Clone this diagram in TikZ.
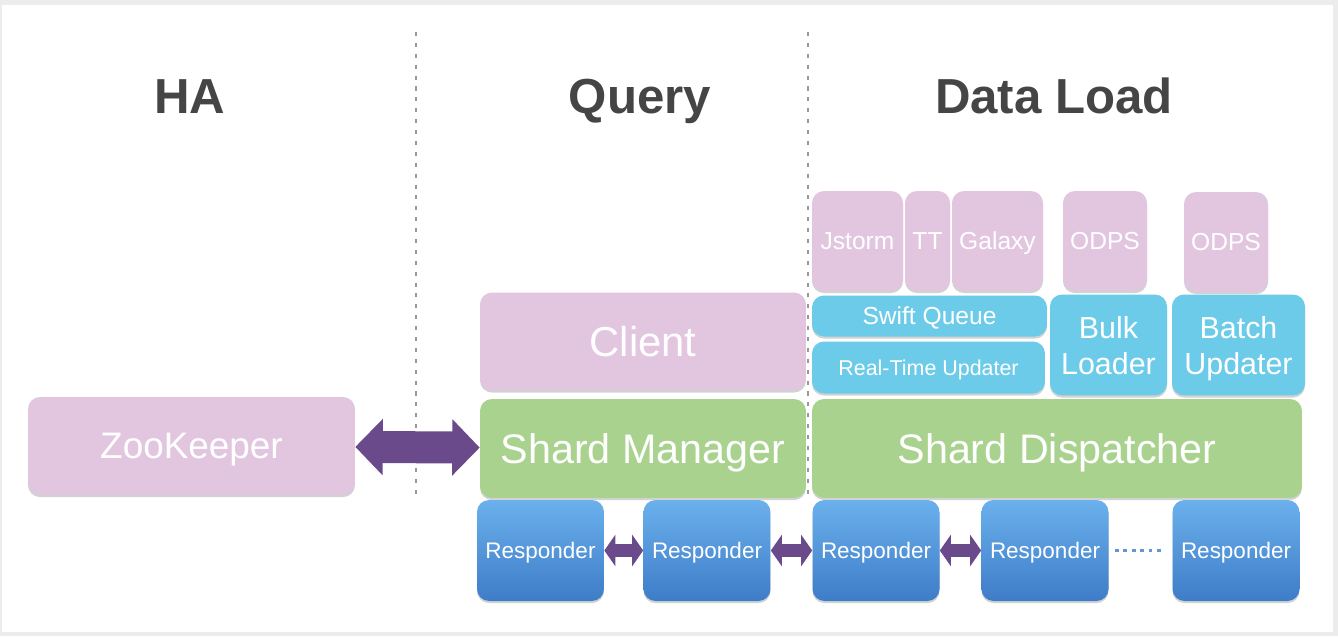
\documentclass[tikz,border=0pt]{standalone}
\usepackage{fontspec}
\setmainfont{Liberation Sans}
\usetikzlibrary{shadows,arrows.meta,positioning}
\definecolor{lightpink}{HTML}{E2C6E0}
\definecolor{lightgreen}{HTML}{A9D28E}
\definecolor{skyblue}{HTML}{6DCBEA}
\definecolor{resptop}{HTML}{6BB1EC}
\definecolor{respbot}{HTML}{3E7CC8}
\definecolor{purplearrow}{HTML}{6A4A8A}
\definecolor{titlegray}{HTML}{454545}
\tikzstyle{box}=[rounded corners=.24cm,inner sep=0pt,text=white,text depth=0pt,
  drop shadow={shadow xshift=0pt,shadow yshift=-1.2pt,opacity=.35}]
\tikzstyle{pinkbox}=[box,fill=lightpink]
\tikzstyle{greenbox}=[box,fill=lightgreen]
\tikzstyle{bluebox}=[box,fill=skyblue]
\tikzstyle{resp}=[box,top color=resptop,bottom color=respbot,
  minimum width=2.54cm,minimum height=2.02cm,font=\fontsize{12.8}{14}\selectfont]
\tikzstyle{title}=[anchor=base,text=titlegray,font=\fontsize{28}{30}\selectfont\bfseries]
\tikzstyle{fat}=[purplearrow,line width=.64cm,
  {Triangle[width=1.1cm,length=.55cm]}-{Triangle[width=1.1cm,length=.55cm]}]
\tikzstyle{thin}=[purplearrow,line width=.26cm,
  {Triangle[width=.62cm,length=.22cm]}-{Triangle[width=.62cm,length=.22cm]}]
\tikzstyle{divider}=[gray!80,line width=1.3pt,dash pattern=on 2.3pt off 3.9pt]

\begin{document}
\begin{tikzpicture}[x=.02cm,y=-.02cm]
  \useasboundingbox (0,0) rectangle (1338,636);
  \fill[gray!15] (0,0) rectangle (1338,636);
  \fill[white] (2,5) rectangle (1333,632);

  % column titles
  \node[title] (ha) at (190,113) {HA};
  \node[title] (query) at (640,113) {Query};
  \node[title] (load) at (1054,113) {Data Load};
  \draw[divider] (416,32) -- (416,500);
  \draw[divider] (808,32) -- (808,496);

  % HA and query
  \node[pinkbox,minimum width=6.54cm,minimum height=1.96cm,
    font=\fontsize{21}{24}\selectfont] (zk) at (191.5,446) {ZooKeeper};
  \node[pinkbox,minimum width=6.52cm,minimum height=1.96cm,
    font=\fontsize{23.8}{26}\selectfont] (client) at (643,341.5) {Client};
  \node[greenbox,minimum width=6.52cm,minimum height=1.98cm,
    font=\fontsize{23.5}{26}\selectfont] (sm) at (643,448.5) {Shard Manager};
  \node[greenbox,minimum width=9.8cm,minimum height=1.98cm,
    font=\fontsize{23.5}{26}\selectfont] (sd) at (1057,448.5) {Shard Dispatcher};
  \draw[fat] (zk) -- (sm);

  % data sources
  \node[pinkbox,minimum width=1.82cm,minimum height=2cm,
    font=\fontsize{14}{16}\selectfont] (jstorm) at (857.5,241) {Jstorm};
  \node[pinkbox,minimum width=.9cm,minimum height=2cm,
    font=\fontsize{14}{16}\selectfont] (tt) at (927.5,241) {TT};
  \node[pinkbox,minimum width=1.82cm,minimum height=2cm,
    font=\fontsize{14}{16}\selectfont] (galaxy) at (997.5,241) {Galaxy};
  \node[pinkbox,minimum width=1.68cm,minimum height=2cm,
    font=\fontsize{14}{16}\selectfont] (odps1) at (1105,241) {ODPS};
  \node[pinkbox,minimum width=1.68cm,minimum height=2cm,
    font=\fontsize{14}{16}\selectfont] (odps2) at (1226,242) {ODPS};

  % loaders
  \node[bluebox,minimum width=4.7cm,minimum height=.82cm,
    font=\fontsize{14}{16}\selectfont] (swift) at (929.5,316) {Swift Queue};
  \node[bluebox,minimum width=4.66cm,minimum height=1.04cm,
    font=\fontsize{12.2}{14}\selectfont] (rtu) at (928.5,367.5) {Real-Time Updater};
  \node[bluebox,minimum width=2.34cm,minimum height=2.02cm,align=center,
    font=\fontsize{17.3}{20.5}\selectfont] (bulk) at (1108.5,345) {Bulk\\Loader};
  \node[bluebox,minimum width=2.66cm,minimum height=2.02cm,align=center,
    font=\fontsize{17.3}{20.5}\selectfont] (batch) at (1238.5,345) {Batch\\Updater};

  % responders
  \node[resp] (r1) at (540.5,550.5) {Responder};
  \node[resp] (r2) at (707,550.5) {Responder};
  \node[resp] (r3) at (876,550.5) {Responder};
  \node[resp] (r4) at (1045,550.5) {Responder};
  \node[resp] (r5) at (1236,550.5) {Responder};
  \draw[thin] (r1) -- (r2);
  \draw[thin] (r2) -- (r3);
  \draw[thin] (r3) -- (r4);
  \draw[respbot!80,line width=2.2pt,dash pattern=on 2.2pt off 2.6pt,
    shorten <=.12cm,shorten >=.14cm] (r4) -- (r5);
\end{tikzpicture}
\end{document}
